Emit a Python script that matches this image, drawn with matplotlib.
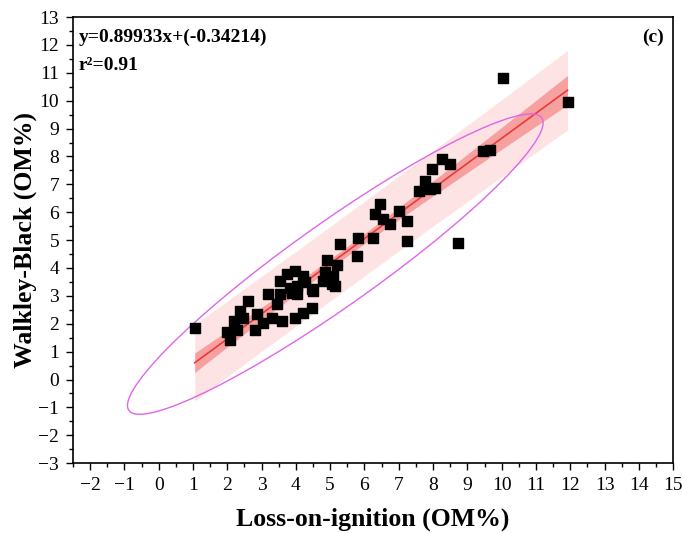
import matplotlib.pyplot as plt
import numpy as np
from matplotlib.patches import Ellipse

plt.rcParams["font.family"] = ["Liberation Serif", "DejaVu Serif"]

# data
loi = np.array([1.05, 1.98, 2.07, 2.20, 2.27, 2.36, 2.45, 2.60, 2.80, 2.86,
                3.03, 3.18, 3.30, 3.44, 3.53, 3.53, 3.60, 3.73, 3.82, 3.90,
                3.97, 3.97, 4.02, 4.02, 4.20, 4.20, 4.26, 4.46, 4.46, 4.49,
                4.78, 4.84, 4.90, 4.90, 5.04, 5.07, 5.13, 5.19, 5.28, 5.77,
                5.80, 6.24, 6.30, 6.44, 6.53, 6.73, 7.00, 7.23, 7.23, 7.60,
                7.76, 7.90, 7.96, 8.05, 8.25, 8.48, 8.72, 9.45, 9.65, 10.03,
                11.92])
wb = np.array([1.86, 1.70, 1.40, 2.10, 1.76, 2.47, 2.19, 2.83, 1.76, 2.36,
               2.04, 3.08, 2.22, 2.72, 3.55, 3.08, 2.10, 3.80, 3.30, 3.12,
               3.90, 2.22, 3.37, 3.08, 3.73, 2.40, 3.48, 3.26, 2.58, 3.19,
               3.55, 3.84, 4.27, 3.66, 3.44, 3.73, 3.37, 4.09, 4.87, 4.44,
               5.09, 5.09, 5.95, 6.31, 5.77, 5.59, 6.06, 5.70, 4.98, 6.77,
               7.13, 6.85, 7.56, 6.88, 7.92, 7.74, 4.91, 8.20, 8.24, 10.82,
               9.96])

slope = 0.89933
intercept = -0.34214
r2 = 0.91

x_ticks = list(range(-2, 16))
y_ticks = list(range(-3, 14))

# regression line with confidence and prediction bands
n = len(loi)
xf = np.linspace(loi.min(), loi.max(), 200)
yf = slope * xf + intercept
resid = wb - (slope * loi + intercept)
s = np.sqrt(np.sum(resid ** 2) / (n - 2))
sxx = np.sum((loi - loi.mean()) ** 2)
t = 1.9
conf = t * s * np.sqrt(1 / n + (xf - loi.mean()) ** 2 / sxx)
pred = t * s * np.sqrt(1 + 1 / n + (xf - loi.mean()) ** 2 / sxx)

fig = plt.figure(figsize=(6.82, 5.33), dpi=100)
ax = fig.add_axes([0.107, 0.131, 0.88, 0.837])

ax.fill_between(xf, yf - pred, yf + pred, color="#fde3e3", lw=0, zorder=1)
ax.fill_between(xf, yf - conf, yf + conf, color="#f7a0a0", lw=0, zorder=2)
ax.plot(xf, yf, color="#e83a3a", lw=1.2, zorder=3)

# 95% ellipse of the data
cov = np.cov(loi, wb)
vals, vecs = np.linalg.eigh(cov)
order = vals.argsort()[::-1]
vals, vecs = vals[order], vecs[:, order]
angle = np.degrees(np.arctan2(vecs[1, 0], vecs[0, 0]))
k_major = 2.55
k_minor = 2.7
ell = Ellipse((loi.mean() - 0.03, wb.mean() - 0.18), 2 * k_major * np.sqrt(vals[0]),
              2 * k_minor * np.sqrt(vals[1]), angle=angle - 1.5, fill=False,
              edgecolor="#e066e8", lw=1.0, zorder=4)
ax.add_patch(ell)

ax.scatter(loi, wb, marker="s", s=42, color="black", zorder=5)

ax.set_xlim(-2.5, 15)
ax.set_ylim(-3, 13)
ax.set_xticks(x_ticks)
ax.set_yticks(y_ticks)
ax.set_xticks(np.arange(-2.5, 15.01, 0.5), minor=True)
ax.set_yticks(np.arange(-3, 13.01, 0.5), minor=True)
ax.tick_params(which="major", direction="out", length=5, width=1, labelsize=14, pad=5)
ax.tick_params(which="minor", direction="out", length=3, width=1)
for sp in ax.spines.values():
    sp.set_linewidth(1.2)

ax.set_xlabel("Loss-on-ignition (OM%)", fontsize=18.5, fontweight="bold", labelpad=10)
ax.set_ylabel("Walkley-Black (OM%)", fontsize=18.5, fontweight="bold", labelpad=1)

ax.text(0.01, 0.975, "y=%.5fx+(%.5f)" % (slope, intercept), transform=ax.transAxes,
        fontsize=14, fontweight="bold", va="top", ha="left")
ax.text(0.01, 0.91, "r²=%.2f" % r2, transform=ax.transAxes,
        fontsize=14, fontweight="bold", va="top", ha="left")
ax.text(0.985, 0.975, "(c)", transform=ax.transAxes, fontsize=14,
        fontweight="bold", va="top", ha="right")

fig.savefig("out.png", dpi=100)
